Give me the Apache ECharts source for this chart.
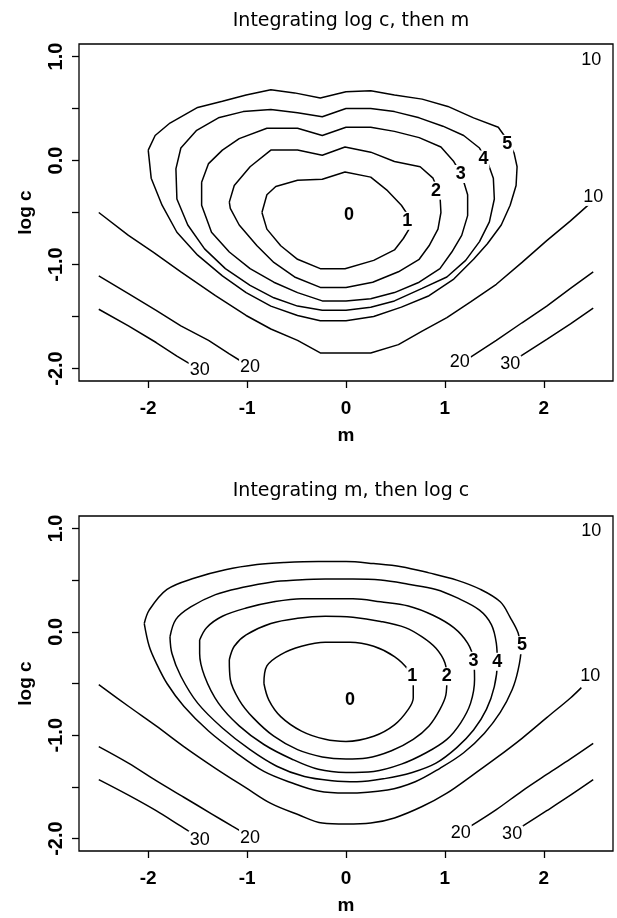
<!DOCTYPE html>
<html>
<head>
<meta charset="utf-8">
<script src="https://cdn.jsdelivr.net/npm/echarts@6/dist/echarts.min.js"></script>
<style>
html,body{margin:0;padding:0;background:#fff;}
#chart{width:617px;height:918px;}
</style>
</head>
<body>
<div id="chart"></div>
<script>
// ---------- tick values ----------
const mTicks = [-2, -1, 0, 1, 2];
const cTicks = [-2, -1.5, -1, -0.5, 0, 0.5, 1];
const cTickLabels = [-2, -1, 0, 1];
const titles = ['Integrating log c, then m', 'Integrating m, then log c'];

// ---------- top panel: Integrating log c, then m ----------
const a1 = [[-0.85,-0.50],[-0.80,-0.33],[-0.71,-0.25],[-0.49,-0.19],[-0.24,-0.18],[-0.01,-0.11],[0.25,-0.16],[0.42,-0.29],[0.56,-0.43],[0.63,-0.53],[0.65,-0.64],[0.58,-0.75],[0.49,-0.86],[0.28,-0.96],[-0.01,-1.04],[-0.26,-1.04],[-0.49,-0.95],[-0.66,-0.82],[-0.80,-0.66]];
const a2 = [[-1.18,-0.40],[-1.13,-0.24],[-0.97,-0.06],[-0.76,0.10],[-0.49,0.10],[-0.24,0.05],[-0.01,0.13],[0.25,0.08],[0.49,-0.01],[0.75,-0.06],[0.88,-0.17],[0.95,-0.33],[0.96,-0.50],[0.93,-0.66],[0.84,-0.82],[0.74,-0.95],[0.53,-1.07],[0.27,-1.17],[0.00,-1.22],[-0.26,-1.22],[-0.52,-1.12],[-0.73,-0.98],[-0.90,-0.82],[-1.08,-0.62],[-1.17,-0.46]];
const a3 = [[-1.46,-0.21],[-1.39,-0.03],[-1.25,0.10],[-1.08,0.21],[-0.80,0.31],[-0.49,0.31],[-0.24,0.24],[0.00,0.32],[0.25,0.32],[0.49,0.28],[0.74,0.22],[0.96,0.13],[1.09,-0.01],[1.17,-0.14],[1.23,-0.33],[1.23,-0.53],[1.17,-0.72],[1.07,-0.88],[0.95,-1.04],[0.74,-1.17],[0.49,-1.27],[0.25,-1.33],[0.00,-1.35],[-0.24,-1.35],[-0.49,-1.27],[-0.73,-1.17],[-0.97,-1.04],[-1.18,-0.88],[-1.36,-0.69],[-1.46,-0.43]];
const a4 = [[-1.72,-0.08],[-1.67,0.12],[-1.51,0.29],[-1.29,0.41],[-1.04,0.47],[-0.76,0.49],[-0.49,0.46],[-0.24,0.42],[0.00,0.50],[0.25,0.50],[0.49,0.47],[0.74,0.41],[0.98,0.33],[1.19,0.24],[1.35,0.12],[1.43,-0.01],[1.49,-0.17],[1.50,-0.37],[1.45,-0.59],[1.35,-0.78],[1.21,-0.96],[1.02,-1.12],[0.77,-1.23],[0.49,-1.35],[0.25,-1.41],[0.00,-1.44],[-0.24,-1.44],[-0.49,-1.40],[-0.73,-1.32],[-0.97,-1.20],[-1.22,-1.04],[-1.43,-0.85],[-1.60,-0.62],[-1.71,-0.37]];
const a5 = [[-2.00,0.10],[-1.93,0.24],[-1.78,0.36],[-1.50,0.51],[-1.25,0.57],[-1.01,0.63],[-0.76,0.68],[-0.52,0.65],[-0.26,0.60],[0.00,0.66],[0.25,0.67],[0.49,0.63],[0.77,0.59],[1.03,0.52],[1.29,0.41],[1.54,0.32],[1.63,0.20],[1.70,0.07],[1.73,-0.06],[1.72,-0.24],[1.66,-0.43],[1.57,-0.62],[1.43,-0.80],[1.29,-0.95],[1.09,-1.14],[0.84,-1.30],[0.56,-1.41],[0.28,-1.50],[0.00,-1.54],[-0.26,-1.54],[-0.49,-1.49],[-0.76,-1.40],[-1.01,-1.27],[-1.25,-1.11],[-1.50,-0.91],[-1.71,-0.69],[-1.86,-0.43],[-1.97,-0.17]];
const a10 = [[-2.5,-0.50],[-2.20,-0.72],[-1.95,-0.88],[-1.67,-1.07],[-1.32,-1.30],[-1.01,-1.49],[-0.76,-1.62],[-0.49,-1.73],[-0.26,-1.85],[0.00,-1.85],[0.25,-1.85],[0.53,-1.77],[0.77,-1.64],[1.02,-1.51],[1.26,-1.36],[1.52,-1.19],[1.78,-0.98],[2.03,-0.77],[2.27,-0.58],[2.46,-0.42]];
const a20L = [[-2.5,-1.11],[-2.20,-1.28],[-1.92,-1.44],[-1.67,-1.59],[-1.39,-1.73],[-1.18,-1.86],[-1.06,-1.93]];
const a20R = [[1.26,-1.89],[1.52,-1.73],[1.78,-1.56],[2.03,-1.40],[2.27,-1.23],[2.5,-1.07]];
const a30L = [[-2.5,-1.43],[-2.20,-1.59],[-1.92,-1.75],[-1.71,-1.88],[-1.57,-1.96]];
const a30R = [[1.75,-1.89],[2.03,-1.72],[2.27,-1.57],[2.5,-1.42]];
const aLabels = [[0.03,-0.52,'0'],[0.62,-0.58,'1'],[0.91,-0.29,'2'],[1.16,-0.13,'3'],[1.39,0.01,'4'],[1.63,0.16,'5'],
  [2.50,-0.35,'10'],[2.48,0.97,'10'],[-0.97,-1.99,'20'],[-1.48,-2.01,'30'],[1.15,-1.94,'20'],[1.66,-1.96,'30']];

// ---------- bottom panel: Integrating m, then log c ----------
const b1 = [[-0.83,-0.50],[-0.80,-0.33],[-0.66,-0.22],[-0.45,-0.14],[-0.21,-0.10],[0.04,-0.10],[0.28,-0.14],[0.49,-0.24],[0.63,-0.37],[0.68,-0.50],[0.68,-0.64],[0.63,-0.75],[0.49,-0.90],[0.28,-1.01],[0.00,-1.06],[-0.21,-1.04],[-0.45,-0.96],[-0.66,-0.82],[-0.78,-0.66]];
const b2 = [[-1.18,-0.27],[-1.13,-0.14],[-1.01,-0.03],[-0.76,0.08],[-0.49,0.13],[-0.21,0.15],[0.07,0.14],[0.35,0.10],[0.60,0.04],[0.77,-0.05],[0.91,-0.16],[1.00,-0.30],[1.02,-0.46],[1.01,-0.61],[0.95,-0.75],[0.84,-0.91],[0.68,-1.04],[0.46,-1.15],[0.21,-1.22],[0.00,-1.23],[-0.24,-1.21],[-0.49,-1.14],[-0.73,-1.01],[-0.94,-0.83],[-1.08,-0.66],[-1.17,-0.46]];
const b3 = [[-1.48,-0.08],[-1.41,0.04],[-1.25,0.15],[-1.01,0.23],[-0.73,0.29],[-0.45,0.32],[-0.21,0.32],[0.07,0.32],[0.35,0.29],[0.63,0.25],[0.88,0.16],[1.09,0.04],[1.23,-0.11],[1.29,-0.27],[1.30,-0.46],[1.26,-0.69],[1.16,-0.88],[1.02,-1.04],[0.81,-1.17],[0.56,-1.28],[0.28,-1.35],[0.00,-1.36],[-0.28,-1.33],[-0.55,-1.23],[-0.83,-1.09],[-1.08,-0.91],[-1.29,-0.69],[-1.43,-0.43],[-1.48,-0.21]];
const b4 = [[-1.78,-0.05],[-1.72,0.12],[-1.57,0.24],[-1.32,0.36],[-1.04,0.43],[-0.76,0.48],[-0.49,0.50],[-0.21,0.51],[0.07,0.51],[0.35,0.50],[0.63,0.46],[0.91,0.41],[1.12,0.33],[1.35,0.21],[1.47,0.07],[1.52,-0.11],[1.53,-0.30],[1.50,-0.53],[1.42,-0.75],[1.29,-0.95],[1.12,-1.12],[0.91,-1.27],[0.67,-1.36],[0.39,-1.42],[0.11,-1.45],[-0.14,-1.44],[-0.42,-1.40],[-0.70,-1.30],[-0.97,-1.14],[-1.25,-0.93],[-1.50,-0.69],[-1.67,-0.43],[-1.76,-0.21]];
const b5 = [[-2.04,0.08],[-1.99,0.21],[-1.81,0.41],[-1.53,0.52],[-1.22,0.60],[-0.90,0.65],[-0.62,0.67],[-0.28,0.68],[0.00,0.68],[0.28,0.66],[0.56,0.63],[0.84,0.57],[1.12,0.50],[1.36,0.41],[1.56,0.29],[1.66,0.14],[1.74,-0.01],[1.77,-0.17],[1.74,-0.37],[1.68,-0.56],[1.56,-0.78],[1.40,-0.98],[1.19,-1.17],[0.95,-1.32],[0.70,-1.45],[0.42,-1.53],[0.00,-1.56],[-0.28,-1.54],[-0.55,-1.46],[-0.83,-1.35],[-1.11,-1.17],[-1.39,-0.96],[-1.64,-0.72],[-1.81,-0.50],[-1.92,-0.30],[-1.99,-0.14]];
const b10 = [[-2.5,-0.51],[-2.20,-0.72],[-1.92,-0.91],[-1.64,-1.11],[-1.32,-1.32],[-1.01,-1.51],[-0.76,-1.66],[-0.48,-1.77],[-0.24,-1.85],[0.00,-1.86],[0.25,-1.85],[0.49,-1.80],[0.77,-1.69],[1.02,-1.56],[1.26,-1.40],[1.52,-1.22],[1.78,-1.03],[2.03,-0.83],[2.27,-0.64],[2.38,-0.54]];
const b20L = [[-2.5,-1.11],[-2.20,-1.27],[-1.92,-1.44],[-1.64,-1.60],[-1.36,-1.76],[-1.15,-1.88],[-1.06,-1.93]];
const b20R = [[1.26,-1.88],[1.52,-1.72],[1.78,-1.54],[2.03,-1.38],[2.27,-1.23],[2.5,-1.08]];
const b30L = [[-2.5,-1.43],[-2.20,-1.58],[-1.92,-1.73],[-1.67,-1.88],[-1.57,-1.94]];
const b30R = [[1.77,-1.89],[2.03,-1.73],[2.27,-1.58],[2.5,-1.43]];
const bLabels = [[0.04,-0.66,'0'],[0.67,-0.43,'1'],[1.02,-0.43,'2'],[1.29,-0.28,'3'],[1.53,-0.29,'4'],[1.78,-0.13,'5'],
  [2.47,-0.43,'10'],[2.48,0.97,'10'],[-0.97,-1.99,'20'],[-1.48,-2.01,'30'],[1.16,-1.95,'20'],[1.68,-1.96,'30']];

// ---------- build ----------
const FONT = 'Liberation Sans';
const closeLoop = pts => pts.concat([pts[0]]);

function lineSeries(pts, gi, smooth) {
  return {
    type: 'line', xAxisIndex: gi, yAxisIndex: gi, data: pts,
    symbol: 'none', showSymbol: false, smooth: smooth, silent: true,
    lineStyle: { color: '#000', width: 1.5 }, z: 2
  };
}
function labelSeries(lbls, gi) {
  return {
    type: 'scatter', xAxisIndex: gi, yAxisIndex: gi, symbolSize: 0, silent: true, z: 5,
    itemStyle: { color: '#fff', opacity: 1 },
    data: lbls.map(l => ({
      value: [l[0], l[1]], name: l[2],
      label: { fontWeight: l[2].length === 1 ? 'bold' : 'normal' }
    })),
    label: {
      show: true, position: 'inside', formatter: '{b}', color: '#000',
      textBorderWidth: 0, fontFamily: FONT, fontSize: 18,
      backgroundColor: '#fff', padding: [0, 1]
    }
  };
}

const panels = [
  { loops: [a1, a2, a3, a4, a5], opens: [a10, a20L, a20R, a30L, a30R], labels: aLabels, smooth: false, top: 44, height: 337, titleTop: 7 },
  { loops: [b1, b2, b3, b4, b5], opens: [b10, b20L, b20R, b30L, b30R], labels: bLabels, smooth: 0.35, top: 516, height: 335, titleTop: 477 }
];

const series = [];
panels.forEach((p, gi) => {
  p.loops.forEach(l => series.push(lineSeries(closeLoop(l), gi, p.smooth)));
  p.opens.forEach(l => series.push(lineSeries(l, gi, p.smooth)));
  series.push(labelSeries(p.labels, gi));
});

const axisText = { fontFamily: FONT, fontWeight: 'bold', color: '#000' };

const option = {
  animation: false,
  backgroundColor: '#fff',
  title: panels.map((p, i) => ({
    text: titles[i], left: 346, textAlign: 'center', top: p.titleTop,
    textStyle: { fontFamily: 'DejaVu Sans', fontSize: 19, fontWeight: 'normal', color: '#000' }
  })),
  grid: panels.map(p => ({
    left: 79, width: 534, top: p.top, height: p.height,
    show: true, borderColor: '#000', borderWidth: 1.3, backgroundColor: 'transparent'
  })),
  xAxis: panels.map((p, gi) => ({
    type: 'value', gridIndex: gi, min: -2.7, max: 2.7,
    name: 'm', nameLocation: 'middle', nameGap: 45,
    nameTextStyle: { ...axisText, fontSize: 19 },
    splitLine: { show: false },
    axisLine: { show: false, onZero: false },
    axisTick: { show: true, inside: false, length: 7, customValues: mTicks, lineStyle: { color: '#000', width: 1.3 } },
    axisLabel: { ...axisText, fontSize: 19, margin: 18, customValues: mTicks, formatter: v => String(v) }
  })),
  yAxis: panels.map((p, gi) => ({
    type: 'value', gridIndex: gi, min: -2.12, max: 1.12,
    name: 'log c', nameLocation: 'middle', nameGap: 44, nameRotate: 90,
    nameTextStyle: { ...axisText, fontSize: 19 },
    splitLine: { show: false },
    axisLine: { show: false, onZero: false },
    axisTick: { show: true, inside: false, length: 7, customValues: cTicks, lineStyle: { color: '#000', width: 1.3 } },
    axisLabel: { ...axisText, fontSize: 20, margin: 13, rotate: 90, customValues: cTickLabels, formatter: v => v.toFixed(1) }
  })),
  series: series
};

const chart = echarts.init(document.getElementById('chart'), null, { renderer: 'canvas' });
chart.setOption(option);
</script>
</body>
</html>
